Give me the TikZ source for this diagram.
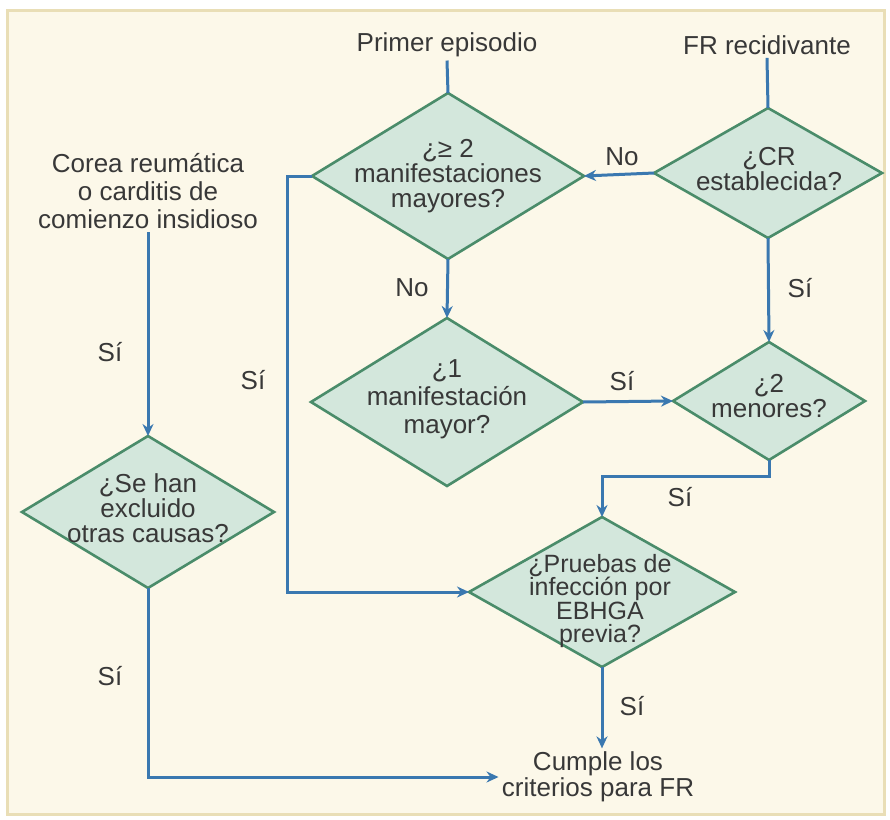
\documentclass[tikz,border=0pt]{standalone}
\usepackage{fontspec}
\setmainfont{Liberation Sans}
\usetikzlibrary{shapes.geometric,arrows.meta}
\definecolor{bgcream}{HTML}{FCF8E9}
\definecolor{framecol}{HTML}{E9DEB6}
\definecolor{dfill}{HTML}{D3E7DC}
\definecolor{dborder}{HTML}{4A8C6A}
\definecolor{cblue}{HTML}{3A78B0}
\definecolor{tcol}{HTML}{383838}
\begin{document}
\begin{tikzpicture}[x=0.5pt,y=-0.5pt,
  dia/.style n args={2}{diamond, draw=dborder, fill=dfill, line width=1.3pt,
    inner sep=0pt, outer sep=0pt, minimum width=#1, minimum height=#2},
  txt/.style={text=tcol, align=center, inner sep=1.5pt,
    font=\fontsize{13}{12.5}\selectfont},
  lbl/.style={text=tcol, inner sep=0pt, font=\fontsize{13}{13}\selectfont},
  conn/.style={draw=cblue, line width=1.5pt},
  arr/.style={conn, -{Stealth[length=6pt,width=5.5pt]}}]
\useasboundingbox (0,0) rectangle (890,820);
\fill[white] (0,0) rectangle (890,820);
\draw[fill=bgcream, draw=framecol, line width=1.5pt] (7,10) rectangle (884,814);

% diamonds
\node[dia={136pt}{83pt}] (d1) at (448,176) {};
\node[dia={114pt}{65pt}] (d2) at (768,173) {};
\node[dia={136pt}{84pt}] (d3) at (447,402) {};
\node[dia={96pt}{59pt}] (d4) at (769,401) {};
\node[dia={133pt}{75pt}] (d5) at (602,592) {};
\node[dia={126pt}{76pt}] (d6) at (148,512) {};

% texts
\node[txt] (pe) at (447,45) {Primer episodio};
\node[txt] (fr) at (767,45) {FR recidivante};
\node[txt] (t1) at (448,176) {¿≥ 2\\manifestaciones\\mayores?};
\node[txt] (t2) at (769,169) {¿CR\\establecida?};
\node[txt, font=\fontsize{13}{14}\selectfont] (t3) at (447,399) {¿1\\manifestación\\mayor?};
\node[txt] (t4) at (769,396) {¿2\\menores?};
\node[txt, font=\fontsize{12.5}{11.8}\selectfont] (t5) at (600,601) {¿Pruebas de\\infección por\\EBHGA\\previa?};
\node[txt] (t6) at (148,508) {¿Se han\\excluido\\otras causas?};
\node[txt, font=\fontsize{13}{14}\selectfont] (corea) at (148,191) {Corea reumática\\o carditis de\\comienzo insidioso};
\node[txt, font=\fontsize{13}{11.8}\selectfont] (cum) at (598,777) {Cumple los\\criterios para FR};

% connectors
\draw[conn] (pe.south) -- (d1.north);
\draw[conn] (fr.south) -- (d2.north);
\draw[arr] (d2.west) -- (d1.east);
\draw[arr] (d2.south) -- (d4.north);
\draw[arr] (d1.south) -- (d3.north);
\draw[arr] (d3.east) -- (d4.west);
\coordinate (c1) at (769,476);
\coordinate (c2) at (602,476);
\draw[arr] (d4.south) -- (c1) -- (c2) -- (d5.north);
\coordinate (c3) at (287,176);
\coordinate (c4) at (287,592);
\draw[arr] (d1.west) -- (c3) -- (c4) -- (d5.west);
\draw[arr] (d5.south) -- (cum.north -| d5.south);
\draw[arr] (corea.south) -- (d6.north);
\coordinate (c5) at (148,777);
\draw[arr] (d6.south) -- (c5) -- (cum.west);

% labels
\node[lbl] (l1) at (622,157) {No};
\node[lbl] (l2) at (800,288) {Sí};
\node[lbl] (l3) at (412,288) {No};
\node[lbl] (l4) at (622,381) {Sí};
\node[lbl] (l5) at (680,497) {Sí};
\node[lbl] (l6) at (253,380) {Sí};
\node[lbl] (l7) at (110,352) {Sí};
\node[lbl] (l8) at (110,676) {Sí};
\node[lbl] (l9) at (632,706) {Sí};
\end{tikzpicture}
\end{document}
